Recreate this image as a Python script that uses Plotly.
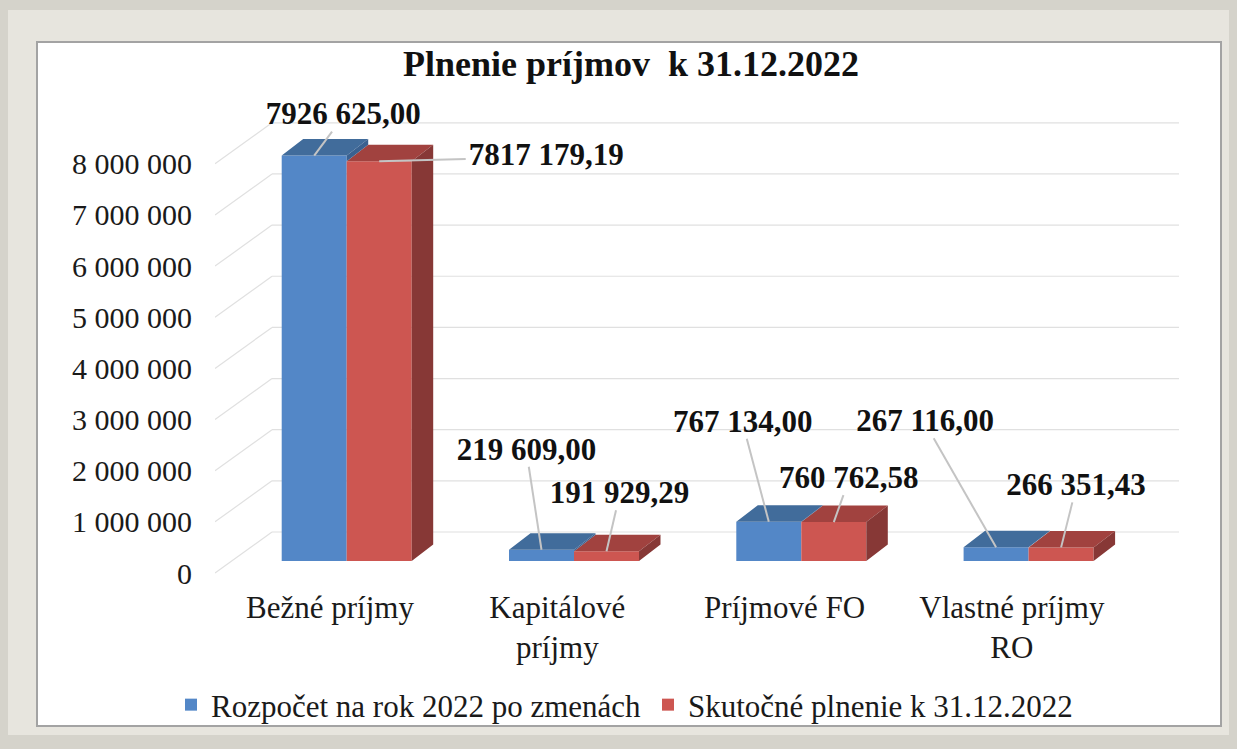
import plotly.graph_objects as go

# ---------------- data ----------------
categories = ["Bežné príjmy", "Kapitálové<br>príjmy", "Príjmové FO", "Vlastné príjmy<br>RO"]
series_names = ["Rozpočet na rok 2022 po zmenách", "Skutočné plnenie k 31.12.2022"]
budget = [7926625.00, 219609.00, 767134.00, 267116.00]
actual = [7817179.19, 191929.29, 760762.58, 266351.43]
tick_values = [0, 1000000, 2000000, 3000000, 4000000, 5000000, 6000000, 7000000, 8000000]
tick_labels = ["0", "1 000 000", "2 000 000", "3 000 000", "4 000 000",
               "5 000 000", "6 000 000", "7 000 000", "8 000 000"]

# ---------------- geometry / style ----------------
W, H = 1237, 749
PLOT_L, PLOT_R, PLOT_T, PLOT_B = 215, 1180, 100, 590
CAT_PX = 227.3          # px per category unit
VAL_PX = 51.15 / 1e6    # px per value unit
X0_PX = 330             # pixel of category 0 (label plane)
Y0_PX = 573             # pixel of value 0 (label plane)

x_range = [(PLOT_L - X0_PX) / CAT_PX, (PLOT_R - X0_PX) / CAT_PX]
y_range = [(Y0_PX - PLOT_B) / VAL_PX, (Y0_PX - PLOT_T) / VAL_PX]

# plane offsets (pixels -> data units)
FX = 16.7 / CAT_PX            # front face plane shift right
FB = 12.0 / VAL_PX            # front face plane shift up (bar base)
DX = 21.5 / CAT_PX            # bar depth, horizontal
DY = 16.5 / VAL_PX            # bar depth, vertical
BX = 57.0 / CAT_PX            # back wall shift
BY = 41.0 / VAL_PX
WALL_RIGHT = (1179 - X0_PX) / CAT_PX
BW = 65.0 / CAT_PX            # bar width

FONT = "Liberation Serif, Times New Roman, serif"
LBL_SIZE = 31
GRID = "#e0e0e0"
BLUE, BLUE_TOP, BLUE_SIDE = "#5387c7", "#416c9b", "#3a6190"
RED, RED_TOP, RED_SIDE = "#cd5651", "#a1423f", "#873836"

# label offsets (px) from top of each bar to label centre
lbl_off_budget = [(29, -39), (-15, -98), (-26, -98), (-71, -124)]
lbl_off_actual = [(167, -4), (13, -56), (15, -42), (15, -60)]


def px_x(px):
    return (px - PLOT_L) / (PLOT_R - PLOT_L)


def px_y(py):
    return (PLOT_B - py) / (PLOT_B - PLOT_T)


def fmt(v):
    s = f"{v:.2f}"
    ip, dp = s.split(".")
    if len(ip) > 3:
        ip = ip[:-3] + " " + ip[-3:]
    return ip + "," + dp


def text_halfwidth(s, size):
    w = 0
    for ch in s:
        w += 0.5 if ch.isdigit() else 0.25
    return w * size / 2


fig = go.Figure()

# front faces
xs = [i + FX for i in range(len(categories))]
fig.add_trace(go.Bar(x=xs, y=budget, base=FB, width=BW, offset=-BW, name=series_names[0],
                     marker=dict(color=BLUE, line=dict(width=0)), hovertext=categories))
fig.add_trace(go.Bar(x=xs, y=actual, base=FB, width=BW, offset=0, name=series_names[1],
                     marker=dict(color=RED, line=dict(width=0)), hovertext=categories))


def poly_trace(polys, color):
    px_, py_ = [], []
    for p in polys:
        for (a, b) in p:
            px_.append(a)
            py_.append(b)
        px_.append(p[0][0])
        py_.append(p[0][1])
        px_.append(None)
        py_.append(None)
    return go.Scatter(x=px_, y=py_, mode="lines", fill="toself", fillcolor=color,
                      line=dict(width=0, color=color), hoverinfo="skip", showlegend=False)


red_top, red_side, blue_top, blue_side = [], [], [], []
for i, x in enumerate(xs):
    yt = FB + actual[i]
    xl, xr = x, x + BW
    red_top.append([(xl, yt), (xr, yt), (xr + DX, yt + DY), (xl + DX, yt + DY)])
    red_side.append([(xr, FB), (xr, yt), (xr + DX, yt + DY), (xr + DX, FB + DY)])
    ytb = FB + budget[i]
    xl, xr = x - BW, x
    blue_top.append([(xl, ytb), (xr, ytb), (xr + DX, ytb + DY), (xl + DX, ytb + DY)])
    low = min(ytb, yt)
    blue_side.append([(xr, low), (xr, ytb), (xr + DX, ytb + DY), (xr + DX, low + DY)])

fig.add_trace(poly_trace(red_top, RED_TOP))
fig.add_trace(poly_trace(red_side, RED_SIDE))
fig.add_trace(poly_trace(blue_top, BLUE_TOP))
fig.add_trace(poly_trace(blue_side, BLUE_SIDE))

# data labels with leader lines
lx, ly, tx, ty, tt = [], [], [], [], []
for i, x in enumerate(xs):
    for vals, offs, cx in ((budget, lbl_off_budget, x - BW / 2), (actual, lbl_off_actual, x + BW / 2)):
        label = fmt(vals[i])
        hy = FB + vals[i]
        ox, oy = offs[i]  # pixels, oy positive = down
        hw = text_halfwidth(label, LBL_SIZE) + 3
        hh = 15
        rx = hw / abs(ox) if abs(ox) > 1e-9 else float("inf")
        ry = hh / abs(oy) if abs(oy) > 1e-9 else float("inf")
        t = max(0.0, 1.0 - min(rx, ry))
        ex, ey = ox * t, oy * t
        lx += [cx, cx + ex / CAT_PX, None]
        ly += [hy, hy - ey / VAL_PX, None]
        tx.append(cx + ox / CAT_PX)
        ty.append(hy - oy / VAL_PX)
        tt.append(f"<b>{label}</b>")

fig.add_trace(go.Scatter(x=lx, y=ly, mode="lines", line=dict(color="#c4c4c4", width=2),
                         hoverinfo="skip", showlegend=False))
fig.add_trace(go.Scatter(x=tx, y=ty, mode="text", text=tt, textposition="middle center",
                         textfont=dict(family=FONT, size=LBL_SIZE, color="#111111"),
                         hoverinfo="skip", showlegend=False))

# frame decoration
shapes = [
    dict(type="rect", xref="paper", yref="paper", layer="below",
         x0=px_x(8), x1=px_x(1229), y0=px_y(735), y1=px_y(10),
         fillcolor="#e7e5de", line=dict(width=0)),
    dict(type="rect", xref="paper", yref="paper", layer="below",
         x0=px_x(37), x1=px_x(1221), y0=px_y(726), y1=px_y(42),
         fillcolor="white", line=dict(color="#a3a3a3", width=2)),
]
# back wall grid + diagonal side-wall lines (beneath the bars)
for v in tick_values:
    shapes.append(dict(type="line", xref="x", yref="y", layer="below",
                       x0=x_range[0], y0=v, x1=x_range[0] + BX, y1=v + BY,
                       line=dict(color=GRID, width=1.2)))
    shapes.append(dict(type="line", xref="x", yref="y", layer="below",
                       x0=x_range[0] + BX, y0=v + BY, x1=WALL_RIGHT, y1=v + BY,
                       line=dict(color=GRID, width=1.2)))

fig.update_layout(
    width=W, height=H,
    margin=dict(l=PLOT_L, r=W - PLOT_R, t=PLOT_T, b=H - PLOT_B, autoexpand=False),
    paper_bgcolor="#d5d3cb", plot_bgcolor="rgba(0,0,0,0)",
    barmode="overlay",
    font=dict(family=FONT, size=30, color="#1a1a1a"),
    title=dict(text="<b>Plnenie príjmov  k 31.12.2022</b>", x=631 / W, xanchor="center",
               y=1 - 63 / H, yanchor="middle", font=dict(family=FONT, size=36, color="#111111")),
    xaxis=dict(range=x_range, tickvals=list(range(len(categories))), ticktext=categories,
               showgrid=False, zeroline=False, showline=False, ticks="", automargin=False,
               ticklabelstandoff=-4,
               tickfont=dict(family=FONT, size=31, color="#1a1a1a")),
    yaxis=dict(range=y_range, tickvals=tick_values, ticktext=tick_labels, automargin=False,
               showgrid=False, zeroline=False, showline=False, ticks="", ticklabelstandoff=22,
               tickfont=dict(family=FONT, size=30, color="#1a1a1a")),
    legend=dict(orientation="h", xref="container", yref="container", x=648 / W, xanchor="center",
                y=(H - 705) / H, yanchor="middle", font=dict(family=FONT, size=31, color="#1a1a1a"),
                bgcolor="rgba(0,0,0,0)", entrywidth=432, entrywidthmode="pixels"),
    shapes=shapes,
    showlegend=True,
)

fig.write_html("out.html", config={"displayModeBar": False},
               post_script="document.body.style.margin='0';")
